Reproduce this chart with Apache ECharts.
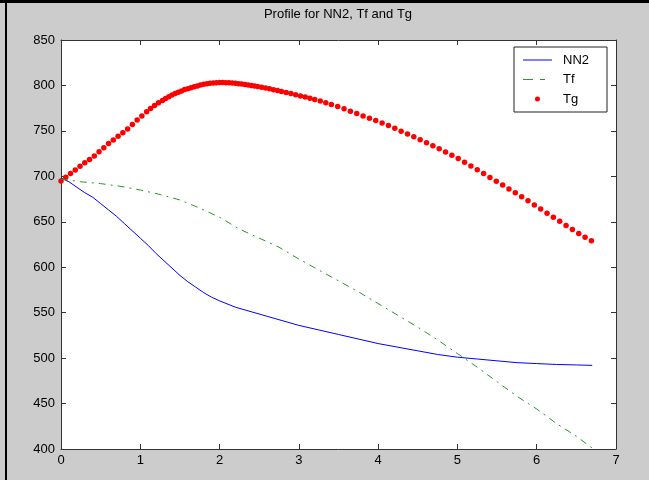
<!DOCTYPE html>
<html>
<head>
<meta charset="utf-8">
<script src="https://cdn.jsdelivr.net/npm/echarts@6/dist/echarts.min.js"></script>
<style>html,body{margin:0;padding:0;background:#cccccc;}#c{width:649px;height:480px;}</style>
</head>
<body>
<div id="c"></div>
<script>
var titleText = 'Profile for NN2, Tf and Tg';
var seriesNames = ['NN2', 'Tf', 'Tg'];
var xTicks = [0, 1, 2, 3, 4, 5, 6, 7];
var yTicks = [400, 450, 500, 550, 600, 650, 700, 750, 800, 850];

var nn2X = [0,0.1,0.2,0.3,0.4,0.5,0.6,0.7,0.8,0.9,1.0,1.1,1.2,1.3,1.4,1.5,1.6,1.7,1.8,1.9,2.0,2.2,2.4,2.6,2.8,3.0,3.25,3.5,3.75,4.0,4.25,4.5,4.75,5.0,5.25,5.5,5.75,6.0,6.25,6.5,6.7];
var nn2Y = [698,694,688,682,677,670,663,656,648,640,632,624,615,607,599,591,584,578,572,567,563,556,551,546,541,536,531,526,521,516,512,508,504,501,499,497,495,494,493,492.5,492];

var tfX = [0,0.25,0.5,0.75,1.0,1.25,1.5,1.75,2.0,2.25,2.5,2.75,3.0,3.25,3.5,3.75,4.0,4.25,4.5,4.75,5.0,5.25,5.5,5.75,6.0,6.25,6.5,6.7];
var tfY = [697,694,692,689,685,680,674,665,655,642,632,622,609,597,585,573,560,547,534,520,505,490,474,458,444,428,414,401];

var tgX = [0,0.06,0.12,0.18,0.24,0.30,0.36,0.42,0.48,0.54,0.60,0.66,0.72,0.78,0.84,0.90,0.96,1.02,1.08,1.13,1.18,1.23,1.28,1.32,1.36,1.40,1.44,1.48,1.52,1.56,1.60,1.64,1.68,1.72,1.76,1.80,1.84,1.88,1.92,1.96,2.00,2.04,2.08,2.12,2.16,2.20,2.24,2.28,2.32,2.36,2.40,2.44,2.48,2.53,2.58,2.63,2.68,2.73,2.78,2.84,2.90,2.96,3.02,3.08,3.14,3.20,3.27,3.34,3.41,3.49,3.57,3.65,3.73,3.81,3.89,3.97,4.05,4.13,4.21,4.29,4.37,4.45,4.53,4.61,4.69,4.77,4.85,4.93,5.01,5.09,5.17,5.25,5.33,5.41,5.49,5.57,5.65,5.73,5.81,5.89,5.97,6.05,6.13,6.21,6.29,6.37,6.45,6.53,6.61,6.69];
var tgY = [695,699,703,707,711,715,718.5,722.5,727,731.5,736,740,744,748,752,757,762,766.5,771,774.5,778,781,783.5,785.5,787.5,789.5,791,792.5,794,795.5,796.5,797.5,798.5,799.5,800.5,801.3,802,802.5,802.8,803,803.2,803.2,803.1,803,802.7,802.4,802,801.6,801.1,800.6,800,799.4,798.8,798,797.2,796.3,795.4,794.4,793.4,792.2,791,789.8,788.5,787.2,785.9,784.6,783,781,779,776.8,774.3,771.5,769,766.5,764,761.4,758.8,755.8,752.8,749.7,746.6,743.5,740.3,737,733.7,730.3,726.8,723.3,719.6,715.6,711.4,707.2,703,698.8,694.6,690.4,686.2,682,677.5,673,668.5,664,659.5,655,650.5,646,641.5,637,633,629];

function pairs(xs, ys) { return xs.map(function (x, i) { return [x, ys[i]]; }); }

var FONT = "'Liberation Sans', Arial, sans-serif";
var AX = '#333333';
var BOX = 'M0,0L0.01,0Z M29,14L28.99,14Z ';

var chart = echarts.init(document.getElementById('c'), null, {renderer: 'canvas'});
function xAx(pos, labels) {
  return {
    type: 'value', position: pos, min: xTicks[0], max: xTicks[xTicks.length - 1], interval: 1,
    axisLine: {show: true, onZero: false, lineStyle: {color: AX, width: 1}},
    axisTick: {show: true, inside: true, length: 5, lineStyle: {color: AX}},
    axisLabel: {show: labels, color: '#000', fontSize: 13, fontFamily: FONT, margin: 5},
    splitLine: {show: false}
  };
}
function yAx(pos, labels) {
  return {
    type: 'value', position: pos, min: yTicks[0], max: yTicks[yTicks.length - 1], interval: 50,
    axisLine: {show: true, onZero: false, lineStyle: {color: AX, width: 1}},
    axisTick: {show: true, inside: true, length: 5, lineStyle: {color: AX}},
    axisLabel: {show: labels, color: '#000', fontSize: 13, fontFamily: FONT, margin: 6},
    splitLine: {show: false}
  };
}
chart.setOption({
  backgroundColor: '#cccccc',
  animation: false,
  title: {
    text: titleText, left: 338, textAlign: 'center', top: 8, padding: 0,
    textStyle: {fontSize: 13, fontWeight: 'normal', color: '#000', fontFamily: FONT}
  },
  grid: {left: 61, top: 40, right: 33, bottom: 31, backgroundColor: '#ffffff', show: true, borderWidth: 0},
  xAxis: [xAx('bottom', true), xAx('top', false)],
  yAxis: [yAx('left', true), yAx('right', false)],
  legend: {
    orient: 'vertical', right: 42, top: 47,
    padding: [6, 18, 6, 9], itemGap: 5.5, itemWidth: 29, itemHeight: 14,
    backgroundColor: '#ffffff', borderColor: '#222', borderWidth: 1, borderRadius: 0,
    textStyle: {fontSize: 13, color: '#000', fontFamily: FONT, padding: [0, 0, 0, 6]},
    data: [
      {name: seriesNames[0], icon: 'path://' + BOX + 'M0,6.5L29,6.5L29,7.5L0,7.5Z', itemStyle: {color: '#0000ff', borderWidth: 0}},
      {name: seriesNames[1], icon: 'path://' + BOX + 'M0,6.5L10,6.5L10,7.5L0,7.5Z M17,6.5L22,6.5L22,7.5L17,7.5Z', itemStyle: {color: '#2a962a', borderWidth: 0}},
      {name: seriesNames[2], icon: 'path://' + BOX + 'M12,7a2.5,2.5 0 1,0 5,0a2.5,2.5 0 1,0 -5,0Z', itemStyle: {color: '#ff0000', borderWidth: 0}}
    ]
  },
  graphic: [
    {type: 'rect', shape: {x: 0, y: 0, width: 649, height: 3}, style: {fill: '#000'}, z: 100},
    {type: 'rect', shape: {x: 5, y: 0, width: 2, height: 480}, style: {fill: '#000'}, z: 100}
  ],
  series: [
    {name: seriesNames[0], type: 'line', data: pairs(nn2X, nn2Y), symbol: 'none', smooth: false,
     lineStyle: {color: '#0000ff', width: 1}, itemStyle: {color: '#0000ff'}},
    {name: seriesNames[1], type: 'line', data: pairs(tfX, tfY), symbol: 'none', smooth: false,
     lineStyle: {color: '#2a962a', width: 1, type: [7, 5, 2, 5]}, itemStyle: {color: '#2a962a'}},
    {name: seriesNames[2], type: 'scatter', data: pairs(tgX, tgY), symbol: 'circle', symbolSize: 5.5,
     itemStyle: {color: '#ff0000', opacity: 1}}
  ]
});
</script>
</body>
</html>
